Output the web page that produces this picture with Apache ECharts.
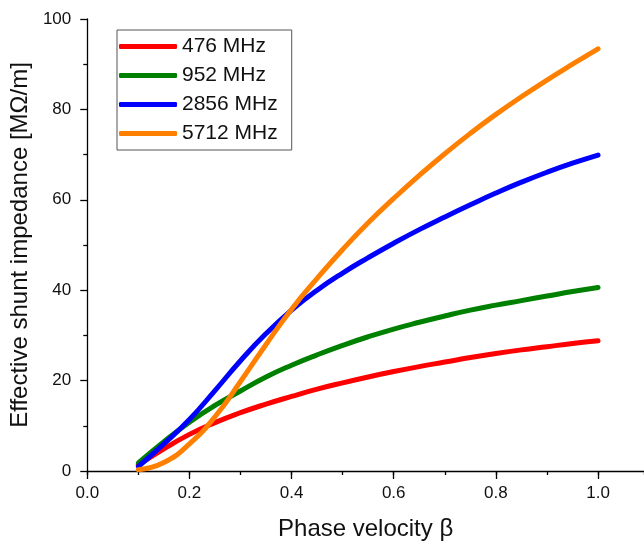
<!DOCTYPE html>
<html>
<head>
<meta charset="utf-8">
<script src="https://cdn.jsdelivr.net/npm/echarts@6/dist/echarts.min.js"></script>
<style>
  html, body { margin: 0; padding: 0; background: #fff; }
  #chart { width: 644px; height: 546px; }
</style>
</head>
<body>
<div id="chart"></div>
<script>
// Phase velocity samples (beta)
const beta = [0.1, 0.15, 0.2, 0.25, 0.3, 0.35, 0.4, 0.45, 0.5, 0.55,
              0.6, 0.65, 0.7, 0.75, 0.8, 0.85, 0.9, 0.95, 1.0];

// Effective shunt impedance [MOhm/m] per frequency
const r476  = [1.3, 4.9, 8.1, 10.7, 12.9, 14.8, 16.5, 18.1, 19.5, 20.8,
               22.0, 23.1, 24.1, 25.1, 26.0, 26.8, 27.5, 28.2, 28.8];
const r952  = [1.8, 6.5, 10.8, 14.5, 17.7, 20.8, 23.4, 25.7, 27.8, 29.7,
               31.4, 32.9, 34.3, 35.6, 36.7, 37.7, 38.7, 39.7, 40.6];
const r2856 = [1.0, 6.0, 11.4, 17.8, 24.4, 30.4, 35.6, 40.0, 43.8, 47.2,
               50.4, 53.4, 56.2, 58.9, 61.5, 63.9, 66.1, 68.1, 69.9];
const r5712 = [0.3, 1.9, 6.0, 12.0, 19.8, 28.0, 35.8, 42.6, 49.0, 54.9,
               60.3, 65.4, 70.2, 74.7, 78.9, 82.8, 86.5, 90.0, 93.4];

const seriesNames = ['476 MHz', '952 MHz', '2856 MHz', '5712 MHz'];
const seriesColors = ['#ff0000', '#008000', '#0000ff', '#ff8000'];
const seriesValues = [r476, r952, r2856, r5712];

// Axis ranges: the beta axis runs slightly past 1.0 to the right edge
const xRange = { min: 0, max: 1.09, major: 0.2, minor: 0.1 };
const yRange = { min: 0, max: 100, major: 20 };

const FONT = '"Liberation Sans", Arial, sans-serif';
const AXIS_LINE = { color: '#000', width: 1.3 };

const chart = echarts.init(document.getElementById('chart'), null, { renderer: 'canvas' });

const series = seriesValues.map((vals, i) => ({
  name: seriesNames[i],
  type: 'line',
  xAxisIndex: 0,
  yAxisIndex: 0,
  data: beta.map((b, j) => [b, vals[j]]),
  smooth: true,
  showSymbol: false,
  symbol: 'none',
  lineStyle: { color: seriesColors[i], width: 5, cap: 'round', join: 'round' },
  itemStyle: { color: seriesColors[i] },
  emphasis: { disabled: true },
  z: 2 + i
}));

chart.setOption({
  animation: false,
  backgroundColor: '#ffffff',
  grid: { left: 85, top: 19, right: 0, height: 452, containLabel: false },
  legend: {
    orient: 'vertical',
    left: 117,
    top: 30,
    data: seriesNames,
    icon: 'roundRect',
    itemWidth: 58,
    itemHeight: 5,
    itemGap: 8,
    padding: [6, 14, 6, 2],
    borderColor: '#555555',
    borderWidth: 1,
    backgroundColor: '#ffffff',
    textStyle: { fontFamily: FONT, fontSize: 21, color: '#111', lineHeight: 20 }
  },
  xAxis: [
    {
      // major ticks, labels and title
      type: 'value',
      position: 'bottom',
      min: xRange.min,
      max: xRange.max,
      interval: xRange.major,
      name: 'Phase velocity β',
      nameLocation: 'middle',
      nameGap: 46,
      nameTextStyle: { fontFamily: FONT, fontSize: 24, color: '#111' },
      axisLine: { show: true, onZero: false, lineStyle: AXIS_LINE },
      axisTick: { show: true, inside: false, length: 8, lineStyle: AXIS_LINE },
      splitLine: { show: false },
      axisLabel: {
        margin: 14,
        fontFamily: FONT, fontSize: 17, color: '#111',
        showMaxLabel: false,
        formatter: v => v.toFixed(1)
      }
    },
    {
      // minor ticks every 0.1
      type: 'value',
      position: 'bottom',
      offset: 0,
      min: xRange.min,
      max: xRange.max,
      interval: xRange.minor,
      axisLine: { show: false, onZero: false },
      axisTick: { show: true, inside: false, length: 4, lineStyle: AXIS_LINE },
      splitLine: { show: false },
      axisLabel: { show: false }
    }
  ],
  yAxis: {
    type: 'value',
    min: yRange.min,
    max: yRange.max,
    interval: yRange.major,
    name: 'Effective shunt impedance [MΩ/m]',
    nameLocation: 'middle',
    nameGap: 52,
    nameTextStyle: { fontFamily: FONT, fontSize: 24, color: '#111' },
    axisLine: { show: true, onZero: false, lineStyle: AXIS_LINE },
    axisTick: { show: true, inside: false, length: 7, lineStyle: AXIS_LINE },
    minorTick: { show: true, splitNumber: 2, length: 4, lineStyle: AXIS_LINE },
    splitLine: { show: false },
    axisLabel: { margin: 16, fontFamily: FONT, fontSize: 17, color: '#111' }
  },
  series: series
});
</script>
</body>
</html>
